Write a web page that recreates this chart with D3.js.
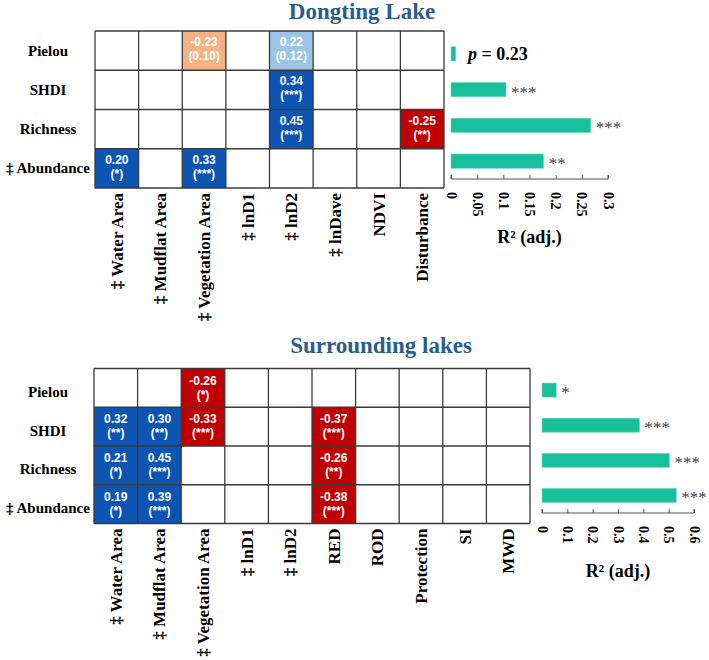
<!DOCTYPE html>
<html>
<head>
<meta charset="utf-8">
<script src="https://cdn.jsdelivr.net/npm/d3@7/dist/d3.min.js"></script>
<style>
  body { margin: 0; background: #fff; }
  svg text { font-family: "Liberation Serif", "Times New Roman", serif; }
</style>
</head>
<body>
<svg id="chart" width="709" height="660"></svg>
<script>
// rows are shared by both panels
var rows = ["Pielou", "SHDI", "Richness", "\u2021 Abundance"];

// Dongting Lake
var colsTop = ["\u2021 Water Area", "\u2021 Mudflat Area", "\u2021 Vegetation Area", "\u2021 lnD1", "\u2021 lnD2", "\u2021 lnDave", "NDVI", "Disturbance"];
// [row, col, r, significance label]
var cellsTop = [
    [0, 2, -0.23, "(0.10)"],
    [0, 4, 0.22, "(0.12)"],
    [1, 4, 0.34, "(***)"],
    [2, 4, 0.45, "(***)"],
    [2, 7, -0.25, "(**)"],
    [3, 0, 0.20, "(*)"],
    [3, 2, 0.33, "(***)"]
];
var r2Top = [0.009, 0.105, 0.267, 0.177];
var r2TopLabel = ["", "***", "***", "**"];
var r2TopTicks = [0, 0.05, 0.1, 0.15, 0.2, 0.25, 0.3];

// Surrounding lakes
var colsBot = ["\u2021 Water Area", "\u2021 Mudflat Area", "\u2021 Vegetation Area", "\u2021 lnD1", "\u2021 lnD2", "RED", "ROD", "Protection", "SI", "MWD"];
var cellsBot = [
    [0, 2, -0.26, "(*)"],
    [1, 0, 0.32, "(**)"],
    [1, 1, 0.30, "(**)"],
    [1, 2, -0.33, "(***)"],
    [1, 5, -0.37, "(***)"],
    [2, 0, 0.21, "(*)"],
    [2, 1, 0.45, "(***)"],
    [2, 5, -0.26, "(**)"],
    [3, 0, 0.19, "(*)"],
    [3, 1, 0.39, "(***)"],
    [3, 5, -0.38, "(***)"]
];
var r2Bot = [0.056, 0.385, 0.503, 0.530];
var r2BotLabel = ["*", "***", "***", "***"];
var r2BotTicks = [0, 0.1, 0.2, 0.3, 0.4, 0.5, 0.6];

var svg = d3.select("#chart");

function cellColor(d) {
    var sig = d[3].indexOf("*") >= 0;
    if (d[2] >= 0) return sig ? "#0d55b3" : "#9dc3e6";
    return sig ? "#c00000" : "#f4b183";
}

// plain hyphen for negatives, like the original
function fmt(v) {
    return d3.format(".2f")(v).replace("\u2212", "-");
}

function panel(opt) {
    var g = svg.append("g");

    var x = d3.scaleBand().domain(d3.range(opt.cols.length)).range([opt.left, opt.right]);
    var y = d3.scaleBand().domain(d3.range(rows.length)).range([opt.top, opt.bottom]);

    // title
    g.append("text")
        .attr("x", opt.titleX)
        .attr("y", opt.titleY)
        .attr("text-anchor", "middle")
        .style("font-size", "23px")
        .style("font-weight", "bold")
        .style("fill", "#2b5c8c")
        .text(opt.title);

    // grid of empty cells
    var grid = [];
    rows.forEach(function (r, i) {
        opt.cols.forEach(function (c, j) { grid.push([i, j]); });
    });
    g.selectAll(".empty")
        .data(grid)
        .enter().append("rect")
        .attr("x", function (d) { return x(d[1]); })
        .attr("y", function (d) { return y(d[0]); })
        .attr("width", x.bandwidth())
        .attr("height", y.bandwidth())
        .style("fill", "#fff");

    // coloured cells
    var cell = g.selectAll(".cell")
        .data(opt.cells)
        .enter().append("g");
    cell.append("rect")
        .attr("x", function (d) { return x(d[1]); })
        .attr("y", function (d) { return y(d[0]); })
        .attr("width", x.bandwidth())
        .attr("height", y.bandwidth())
        .style("fill", cellColor);
    cell.append("text")
        .attr("x", function (d) { return x(d[1]) + x.bandwidth() / 2; })
        .attr("y", function (d) { return y(d[0]) + opt.valDy; })
        .attr("text-anchor", "middle")
        .style("font-family", "'Liberation Sans', Arial, sans-serif")
        .style("font-size", "12px")
        .style("font-weight", "bold")
        .style("fill", "#fff")
        .text(function (d) { return fmt(d[2]); });
    cell.append("text")
        .attr("x", function (d) { return x(d[1]) + x.bandwidth() / 2; })
        .attr("y", function (d) { return y(d[0]) + opt.valDy + 14; })
        .attr("text-anchor", "middle")
        .style("font-family", "'Liberation Sans', Arial, sans-serif")
        .style("font-size", "12px")
        .style("font-weight", "bold")
        .style("fill", "#fff")
        .text(function (d) { return d[3]; });

    // grid lines
    g.selectAll(".vline")
        .data(d3.range(opt.cols.length + 1))
        .enter().append("line")
        .attr("x1", function (d) { return opt.left + d * x.step(); })
        .attr("x2", function (d) { return opt.left + d * x.step(); })
        .attr("y1", opt.top)
        .attr("y2", opt.bottom)
        .style("stroke", "#3a3a3a")
        .style("stroke-width", 1.3);
    g.selectAll(".hline")
        .data(d3.range(rows.length + 1))
        .enter().append("line")
        .attr("x1", opt.left)
        .attr("x2", opt.right)
        .attr("y1", function (d) { return opt.top + d * y.step(); })
        .attr("y2", function (d) { return opt.top + d * y.step(); })
        .style("stroke", "#3a3a3a")
        .style("stroke-width", 1.3);

    // row labels
    g.selectAll(".rowlab")
        .data(rows)
        .enter().append("text")
        .attr("x", 48)
        .attr("y", function (d, i) { return y(i) + y.bandwidth() / 2 + opt.rowDy; })
        .attr("text-anchor", "middle")
        .style("font-size", "15px")
        .style("font-weight", "bold")
        .text(function (d) { return d; });

    // column labels, rotated
    g.selectAll(".collab")
        .data(opt.cols)
        .enter().append("text")
        .attr("transform", function (d, i) {
            return "translate(" + (x(i) + x.bandwidth() / 2 + 6) + "," + (opt.bottom + 5) + ") rotate(-90)";
        })
        .attr("text-anchor", "end")
        .style("font-size", "17px")
        .style("font-weight", "bold")
        .text(function (d) { return d; });

    // R2 bar chart
    var bx = d3.scaleLinear().domain([0, opt.ticks[opt.ticks.length - 1]]).range([opt.barLeft, opt.barRight]);
    var by = d3.scaleBand().domain(d3.range(rows.length)).range([opt.barTop, opt.barBottom])
        .paddingInner(0.6).paddingOuter(0.3);

    g.selectAll(".bar")
        .data(opt.r2)
        .enter().append("rect")
        .attr("x", bx(0))
        .attr("y", function (d, i) { return by(i); })
        .attr("width", function (d) { return bx(d) - bx(0); })
        .attr("height", by.bandwidth())
        .style("fill", "#17bf9a")
        .style("stroke", "#6fdcc2")
        .style("stroke-width", 0.6);

    g.selectAll(".star")
        .data(opt.r2)
        .enter().append("text")
        .attr("x", function (d) { return bx(d) + 5; })
        .attr("y", function (d, i) { return by(i) + by.bandwidth() / 2 + 8; })
        .style("font-size", "17px")
        .style("fill", "#444")
        .text(function (d, i) { return opt.r2Label[i]; });

    var axis = g.append("g")
        .attr("transform", "translate(0," + opt.barBottom + ")")
        .call(d3.axisTop(bx).tickValues(opt.ticks).tickSize(4).tickFormat(function (d) { return d3.format("")(d); }));
    axis.select(".domain").attr("d", "M" + bx(0) + ",-4V0H" + bx.range()[1] + "V-4")
        .style("stroke", "#555");
    axis.selectAll(".tick line").style("stroke", "#555");
    axis.selectAll(".tick text")
        .attr("transform", "rotate(90)")
        .attr("x", 13)
        .attr("y", 0)
        .attr("dy", "0.35em")
        .attr("text-anchor", "start")
        .style("font-family", "'Liberation Serif', serif")
        .style("font-size", "14px")
        .style("font-weight", "bold")
        .style("fill", "#000");

    g.append("text")
        .attr("x", (bx.range()[0] + bx.range()[1]) / 2)
        .attr("y", opt.barBottom + 64)
        .attr("text-anchor", "middle")
        .style("font-size", "18px")
        .style("font-weight", "bold")
        .text("R\u00b2 (adj.)");

    return { bx: bx, by: by, g: g };
}

var lake = panel({
    title: "Dongting Lake", titleX: 362, titleY: 19,
    cols: colsTop, cells: cellsTop,
    left: 95, right: 444, top: 31, bottom: 188,
    valDy: 15, rowDy: 5,
    r2: r2Top, r2Label: r2TopLabel, ticks: r2TopTicks,
    barLeft: 451, barRight: 608, barTop: 36, barBottom: 179
});

// non-significant Pielou model for the lake: p value instead of stars
var pt = lake.g.append("text")
    .attr("x", 468)
    .attr("y", lake.by(0) + lake.by.bandwidth() / 2 + 6)
    .style("font-size", "18px")
    .style("font-weight", "bold");
pt.append("tspan").style("font-style", "italic").text("p");
pt.append("tspan").text(" = 0.23");

panel({
    title: "Surrounding lakes", titleX: 381, titleY: 353,
    cols: colsBot, cells: cellsBot,
    left: 94, right: 530, top: 368.5, bottom: 523.5,
    valDy: 16, rowDy: 9,
    r2: r2Bot, r2Label: r2BotLabel, ticks: r2BotTicks,
    barLeft: 542, barRight: 694, barTop: 372.5, barBottom: 513
});
</script>
</body>
</html>
